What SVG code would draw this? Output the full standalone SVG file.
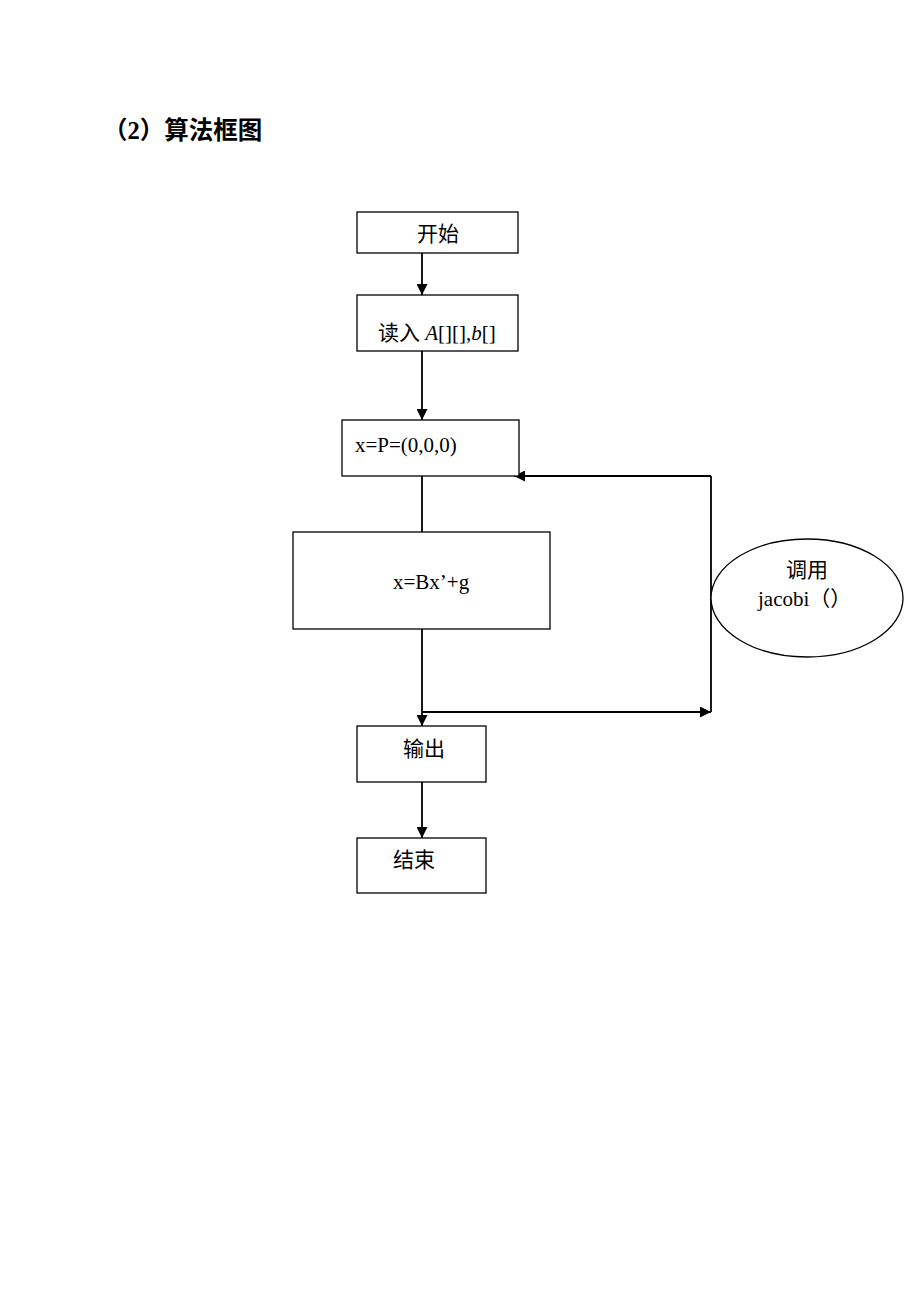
<svg xmlns="http://www.w3.org/2000/svg" width="920" height="1300" viewBox="0 0 920 1300">
<style>
.box{fill:#fff;stroke:#000;stroke-width:1.3}
.ln{fill:none;stroke:#000;stroke-width:1.8}
.t{font-family:"Liberation Serif","Noto Sans CJK SC",serif;font-size:21px;fill:#000}
.title{font-family:"Liberation Serif","Noto Sans CJK SC",serif;font-size:24.5px;font-weight:bold;fill:#000}
</style>
<defs>
<marker id="ah" viewBox="0 0 10 10" refX="10" refY="5" markerWidth="11" markerHeight="11" markerUnits="userSpaceOnUse" orient="auto">
<path d="M0,0 L10,5 L0,10 z" fill="#000"/>
</marker>
</defs>
<rect width="920" height="1300" fill="#fff"/>
<text class="title" x="103" y="139">（2）算法框图</text>
<g id="connectors">
<line class="ln" x1="422" y1="253" x2="422" y2="295" marker-end="url(#ah)"/>
<line class="ln" x1="422" y1="351" x2="422" y2="420" marker-end="url(#ah)"/>
<line class="ln" x1="422" y1="476" x2="422" y2="532"/>
<line class="ln" x1="422" y1="629" x2="422" y2="726" marker-end="url(#ah)"/>
<line class="ln" x1="422" y1="712" x2="711" y2="712" marker-end="url(#ah)"/>
<line class="ln" x1="711" y1="712" x2="711" y2="476"/>
<line class="ln" x1="711" y1="476" x2="514" y2="476" marker-end="url(#ah)"/>
<line class="ln" x1="422" y1="782" x2="422" y2="838" marker-end="url(#ah)"/>
</g>
<g id="start"><rect class="box" x="357" y="212" width="161" height="41"/><text class="t" x="417" y="241">开始</text></g>
<g id="read"><rect class="box" x="357" y="295" width="161" height="56"/><text class="t" x="378" y="340">读入 <tspan font-style="italic">A</tspan>[][],<tspan font-style="italic">b</tspan>[]</text></g>
<g id="init"><rect class="box" x="342" y="420" width="177" height="56"/><text class="t" x="355" y="452">x=P=(0,0,0)</text></g>
<g id="iter"><rect class="box" x="293" y="532" width="257" height="97"/><text class="t" x="393" y="589">x=Bx’+g</text></g>
<g id="call"><ellipse class="box" cx="807" cy="598" rx="96" ry="59"/><text class="t" x="786" y="577">调用</text><text class="t" x="758" y="606">jacobi（）</text></g>
<g id="output"><rect class="box" x="357" y="726" width="129" height="56"/><text class="t" x="403" y="756">输出</text></g>
<g id="end"><rect class="box" x="357" y="838" width="129" height="55"/><text class="t" x="393" y="867">结束</text></g>
</svg>
